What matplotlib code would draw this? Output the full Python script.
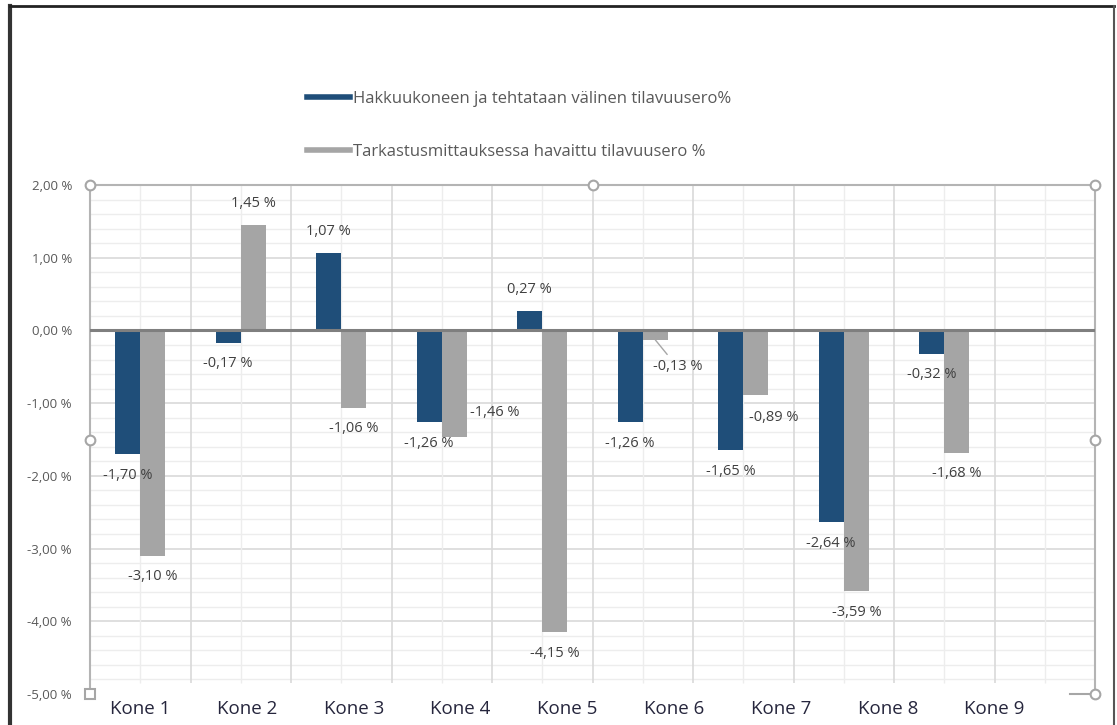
import numpy as np
import matplotlib.pyplot as plt
from matplotlib.lines import Line2D

plt.rcParams['font.family'] = ['Open Sans', 'DejaVu Sans']

# tilavuuserot koneittain (%)
koneet = ['Kone 1', 'Kone 2', 'Kone 3', 'Kone 4', 'Kone 5',
          'Kone 6', 'Kone 7', 'Kone 8', 'Kone 9']
hakkuukone = [-1.70, -0.17, 1.07, -1.26, 0.27, -1.26, -1.65, -2.64, -0.32]
tarkastus = [-3.10, 1.45, -1.06, -1.46, -4.15, -0.13, -0.89, -3.59, -1.68]
sarja1 = 'Hakkuukoneen ja tehtataan välinen tilavuusero%'
sarja2 = 'Tarkastusmittauksessa havaittu tilavuusero %'

SININEN = '#1f4e79'
HARMAA = '#a5a5a5'
TEKSTI = '#595959'


def pros(v):
    return f'{v:.2f}'.replace('.', ',') + ' %'


fig = plt.figure(figsize=(11.17, 7.25), dpi=100)
ax = fig.add_axes([90 / 1117, 1 - 694 / 725, 1005 / 1117, 509 / 725])

# 10 kategoriapaikkaa, viimeinen tyhjä
n_paikat = 10
x = np.arange(len(koneet))
w = 0.25
ax.bar(x - w / 2, hakkuukone, w, color=SININEN, zorder=3)
ax.bar(x + w / 2, tarkastus, w, color=HARMAA, zorder=3)
ax.set_xlim(-0.5, n_paikat - 0.5)
ax.set_ylim(-5, 2)

# ruudukko
pienet = np.round(np.arange(-4.8, 2.0, 0.2), 1)
pienet = [p for p in pienet if abs(p - round(p)) > 1e-6]
ax.hlines(pienet, -0.5, n_paikat - 0.5, color='#ededed', lw=1, zorder=0)
ax.hlines(np.arange(-4, 2), -0.5, n_paikat - 0.5, color='#d9d9d9', lw=1.2, zorder=0)
ax.vlines(np.arange(n_paikat), -4.85, 2, color='#ededed', lw=1, zorder=0)
ax.vlines(np.arange(0.5, n_paikat - 0.5), -4.85, 2, color='#d9d9d9', lw=1.2, zorder=0)
ax.axhline(0, color='#7f7f7f', lw=2.2, zorder=4)

ax.set_yticks(np.arange(-5, 3))
ax.set_yticklabels([pros(v) for v in np.arange(-5, 3)])
ax.tick_params(axis='y', length=0, pad=13, labelsize=9.5, labelcolor=TEKSTI)
ax.set_xticks(np.linspace(0, 8.5, len(koneet)))
ax.set_xticklabels(koneet)
ax.tick_params(axis='x', length=0, pad=4, labelsize=13.5, labelcolor='#26263d')

for s in ['top', 'left', 'right']:
    ax.spines[s].set_color('#b4b4b4')
    ax.spines[s].set_linewidth(1.5)
ax.spines['bottom'].set_visible(False)

# arvolaput, siirretyt laput erikseen (pikseleinä)
siirrot = {(1, 3): (40, -24), (1, 5): (22, 27), (1, 6): (18, 22)}
for s, (arvot, dx) in enumerate([(hakkuukone, -w / 2), (tarkastus, w / 2)]):
    for i, v in enumerate(arvot):
        ox, oy = siirrot.get((s, i), (0, -21 if v >= 0 else 21))
        kw = {}
        if (s, i) == (1, 5):
            kw['arrowprops'] = dict(arrowstyle='-', color='#a6a6a6', lw=1,
                                    shrinkA=2, shrinkB=0)
        ax.annotate(pros(v), (i + dx, v), xytext=(ox * 0.72, -oy * 0.72),
                    textcoords='offset points', ha='center', va='center',
                    fontsize=10.5, fontweight='medium', color='#404040',
                    zorder=6, **kw)

# valintakahvat
for hx, hy, m in [(0, 1, 'o'), (0.5, 1, 'o'), (1, 1, 'o'), (0, 0.5, 'o'),
                  (1, 0.5, 'o'), (0, 0, 's'), (1, 0, 'o')]:
    ax.plot(hx, hy, marker=m, ms=7, mfc='white', mec='#a6a6a6', mew=1.5,
            transform=ax.transAxes, clip_on=False, zorder=7)
ax.plot([0.975, 1], [0, 0], color='#a6a6a6', lw=1.5,
        transform=ax.transAxes, clip_on=False, zorder=6)

kahvat = [Line2D([], [], color=SININEN, lw=4),
          Line2D([], [], color=HARMAA, lw=4)]
fig.legend(kahvat, [sarja1, sarja2], loc='upper left',
           bbox_to_anchor=(307 / 1117, 1 - 91 / 725), frameon=False,
           fontsize=12, labelcolor=TEKSTI, handlelength=2.6,
           handletextpad=0.15, labelspacing=2.2, borderpad=0, borderaxespad=0)

# kaavion reunus
fig.add_artist(Line2D([10 / 1117] * 2, [0, 1 - 6 / 725], color='#333333', lw=3))
fig.add_artist(Line2D([10 / 1117, 1114 / 1117], [1 - 6 / 725] * 2, color='#222222', lw=2))
fig.add_artist(Line2D([1114 / 1117] * 2, [0, 1 - 6 / 725], color='#555555', lw=1.5))

fig.savefig('out.png', dpi=100)
